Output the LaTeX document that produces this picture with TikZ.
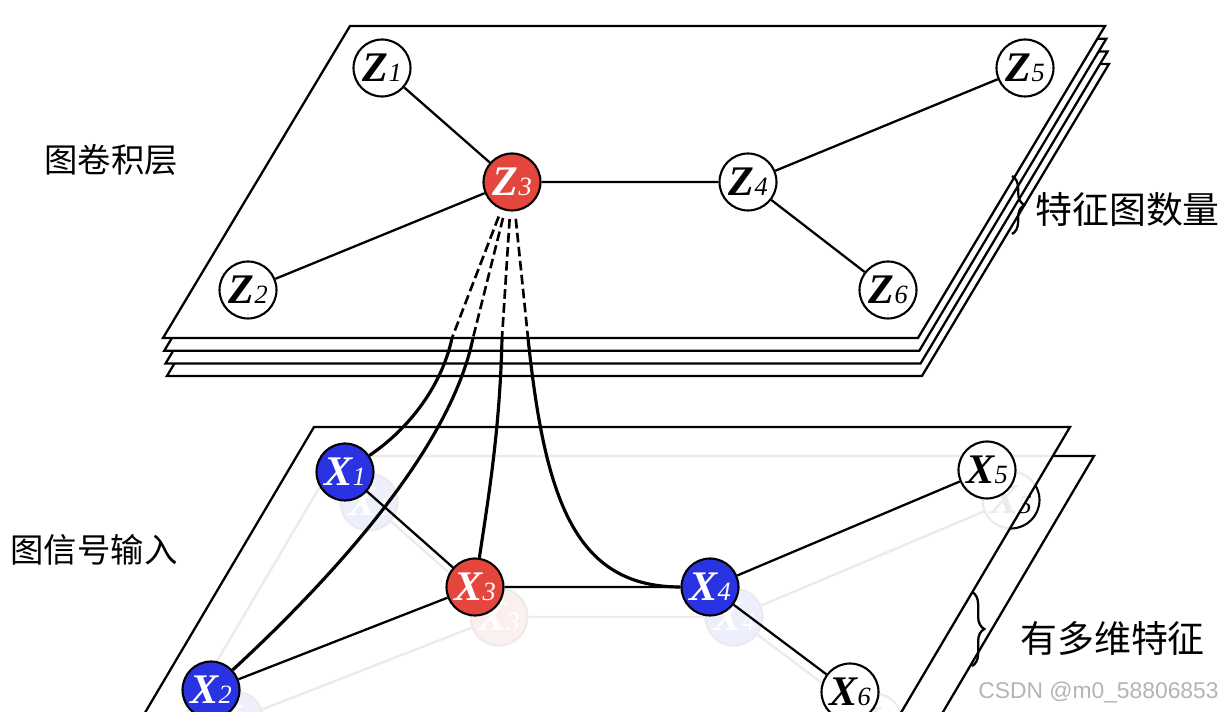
\documentclass[tikz,border=0pt]{standalone}
\usepackage{fontspec}
\setmainfont{Liberation Serif}
\newfontfamily\cjk{Noto Sans CJK SC}
\newfontfamily\wmfont{Liberation Sans}
\usepackage{tikz}
\usetikzlibrary{calc,decorations.pathreplacing}
\definecolor{NodeRed}{HTML}{E4463E}
\definecolor{NodeBlue}{HTML}{2A33E2}
\definecolor{MarkGray}{HTML}{B4B4B4}
\newcommand{\vlab}[2]{{\fontsize{24}{24}\selectfont\bfseries\itshape #1}\kern0.3pt{\fontsize{15}{15}\selectfont\itshape #2}}
\tikzset{
  sheet/.style={draw,fill=white,line width=1.3pt,line join=miter},
  vtx/.style={circle,draw,fill=white,line width=1.2pt,
              minimum size=1.14cm,inner sep=0pt},
  vR/.style={vtx,fill=NodeRed,text=white},
  vB/.style={vtx,fill=NodeBlue,text=white},
  edg/.style={line width=1.3pt},
  lnk/.style={line width=1.8pt},
  dlnk/.style={line width=1.5pt,dash pattern=on 5.5pt off 2.5pt,shorten <=0.15cm},
  lbl/.style={inner sep=0pt,font=\cjk\fontsize{21}{21}\selectfont},
  brc/.style={decorate,decoration={brace,amplitude=7pt},line width=1.3pt}
}

\begin{document}
\begin{tikzpicture}[x=0.02cm,y=-0.02cm]
  \useasboundingbox (0,0) rectangle (1221,712);
  \clip (0,0) rectangle (1221,712);
  % stacked feature maps
  \foreach \k in {3,2,1,0}
    \draw[sheet,shift={(1.3*\k,12.7*\k)}] (350,26) -- (1105,26) -- (918,338) -- (163,338) -- cycle;
  \node[vtx] (z1) at (382,68) {\vlab{Z}{1}};
  \node[vtx] (z2) at (248,290) {\vlab{Z}{2}};
  \node[vR]  (z3) at (512,182) {\vlab{Z}{3}};
  \node[vtx] (z4) at (748,182) {\vlab{Z}{4}};
  \node[vtx] (z5) at (1025,68) {\vlab{Z}{5}};
  \node[vtx] (z6) at (888,290) {\vlab{Z}{6}};
  \draw[edg] (z1)--(z3) (z2)--(z3) (z3)--(z4) (z4)--(z5) (z4)--(z6);
  \coordinate (p1) at (452,338);
  \coordinate (p2) at (473,338);
  \coordinate (p3) at (502,338);
  \coordinate (p4) at (528,338);
  \foreach \p in {p1,p2,p3,p4}
    \draw[dlnk] (z3) -- (\p);

  % input graph, back plane
  \draw[sheet] (338,456) -- (1094,456) -- (897,790) -- (141,790) -- cycle;
  \node[vB]  (gx1) at (369,502) {\vlab{X}{1}};
  \node[vB]  (gx2) at (235,720) {\vlab{X}{2}};
  \node[vR]  (gx3) at (499,617) {\vlab{X}{3}};
  \node[vB]  (gx4) at (734,617) {\vlab{X}{4}};
  \node[vtx] (gx5) at (1011,500) {\vlab{X}{5}};
  \node[vtx] (gx6) at (874,722) {\vlab{X}{6}};
  \draw[edg] (gx1)--(gx3) (gx2)--(gx3) (gx3)--(gx4) (gx4)--(gx5) (gx4)--(gx6);
  % front plane
  \draw[sheet,fill opacity=0.92] (314,427) -- (1070,427) -- (873,760) -- (117,760) -- cycle;
  \node[vB]  (x1) at (345,472) {\vlab{X}{1}};
  \node[vB]  (x2) at (211,690) {\vlab{X}{2}};
  \node[vR]  (x3) at (475,587) {\vlab{X}{3}};
  \node[vB]  (x4) at (710,587) {\vlab{X}{4}};
  \node[vtx] (x5) at (987,470) {\vlab{X}{5}};
  \node[vtx] (x6) at (850,692) {\vlab{X}{6}};
  \draw[edg] (x1)--(x3) (x2)--(x3) (x3)--(x4) (x4)--(x5) (x4)--(x6);
  \draw[lnk] (p1) .. controls (442,385) and (410,428) .. (x1);
  \draw[lnk] (p2) .. controls (450,450) and (330,580) .. (x2);
  \draw[lnk] (p3) .. controls (500,430) and (488,500) .. (x3);
  \draw[lnk] (p4) .. controls (545,500) and (575,587) .. (x4);

  \node[lbl,font=\cjk\fontsize{19}{19}\selectfont] (lconv) at (111,160) {图卷积层};
  \node[lbl,font=\cjk\fontsize{19}{19}\selectfont] (linput) at (94,550) {图信号输入};
  \node[lbl,anchor=west] (lmaps) at (1035,210) {特征图数量};
  \node[lbl,anchor=west] (ldims) at (1020,638) {有多维特征};
  \coordinate (b1a) at (1012,176);
  \coordinate (b1b) at (1012,234);
  \coordinate (b2a) at (972,592);
  \coordinate (b2b) at (972,666);
  \draw[brc] (b1a) -- (b1b);
  \draw[brc] (b2a) -- (b2b);
  \node[anchor=east,inner sep=0pt,text=MarkGray,font=\wmfont\fontsize{13}{13}\selectfont]
    (mark) at (1219,692) {CSDN @m0\_58806853};
\end{tikzpicture}
\end{document}
